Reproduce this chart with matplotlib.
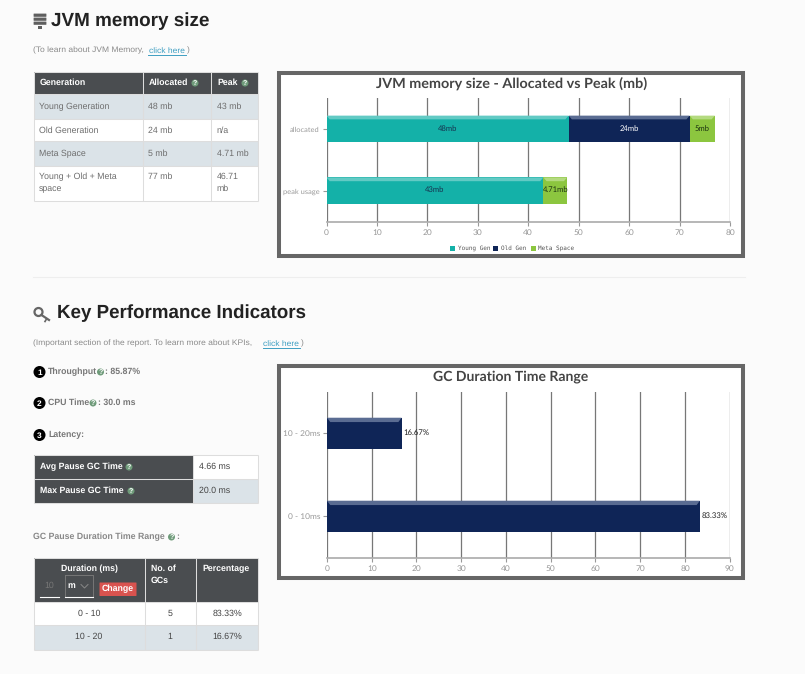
import matplotlib
matplotlib.use("Agg")
import matplotlib.pyplot as plt
from matplotlib.patches import Rectangle, Circle, FancyBboxPatch

plt.rcParams["text.hinting"] = "no_hinting"

W, H = 805, 674

# datos de los graficos
mem_categorias = ["allocated", "peak usage"]
mem_young = [48, 43]
mem_old = [24, 0]
mem_meta = [5, 4.71]
mem_labels_young = ["48mb", "43mb"]
mem_labels_old = ["24mb", ""]
mem_labels_meta = ["5mb", "4.71mb"]
mem_ticks = [0, 10, 20, 30, 40, 50, 60, 70, 80]

gc_categorias = ["10 - 20ms", "0 - 10ms"]
gc_valores = [16.67, 83.33]
gc_labels = ["16.67%", "83.33%"]
gc_ticks = [0, 10, 20, 30, 40, 50, 60, 70, 80, 90]

# datos de las tablas
gen_nombres = ["Young Generation", "Old Generation", "Meta Space"]
gen_allocated = ["48 mb", "24 mb", "5 mb"]
gen_peak = ["43 mb", "n/a", "4.71 mb"]
rango_duracion = ["0 - 10", "10 - 20"]
rango_gcs = ["5", "1"]
rango_pct = ["83.33%", "16.67%"]

TEAL = "#14b1a8"
TEAL_L = "#62cac4"
NAVY = "#0f2557"
NAVY_L = "#5a6c92"
GREEN = "#8cc63f"
GREEN_L = "#b4da80"
DARK = "#4a4d50"
ROW = "#dbe3e8"
BORDER = "#dddddd"
TXT = "#6e6e6e"
SANS = "Liberation Sans"

fig = plt.figure(figsize=(W / 100, H / 100), dpi=100, facecolor="#fbfbfb")
page = fig.add_axes([0, 0, 1, 1])
page.set_xlim(0, W)
page.set_ylim(H, 0)
page.axis("off")


def txt(x, y, s, size=None, color=TXT, bold=False, ha="left", family=SANS):
    if size is None:
        size = 6.3 if bold else 6.3
    page.text(x, y + 1, s, fontsize=size, color=color, ha=ha, va="center",
              family=family, fontweight="bold" if bold else "normal")


def caja(x0, y0, x1, y1, color, borde=None, lw=1):
    page.add_patch(Rectangle((x0, y0), x1 - x0, y1 - y0, facecolor=color,
                             edgecolor=borde if borde else "none", linewidth=lw))


def ayuda(x, y, r=3.5):
    # circulito verde con signo de pregunta
    page.add_patch(Circle((x, y), r, color="#6f9b7a", lw=0, zorder=5))
    page.text(x, y + 0.6, "?", fontsize=5, color="white", ha="center", va="center",
              family=SANS, fontweight="bold", zorder=6)


def numero(x, y, s):
    page.add_patch(Circle((x, y), 6, color="black", lw=0, zorder=5))
    page.text(x, y + 0.6, s, fontsize=6, color="white", ha="center", va="center",
              family=SANS, fontweight="bold", zorder=6)


def tabla_lineas(xs, ys, color="white"):
    for x in xs:
        page.plot([x, x], [ys[0], ys[-1]], color=color, lw=0.75, solid_capstyle="butt")
    for y in ys:
        page.plot([xs[0], xs[-1]], [y, y], color=color, lw=0.75, solid_capstyle="butt")


# encabezado 1
for y0 in [14, 18, 22]:
    page.add_patch(FancyBboxPatch((34, y0), 12, 2.4, boxstyle="round,pad=0.4", color="#5f5f5f", lw=0))
page.add_patch(Rectangle((38, 25.5), 4, 3.5, color="#5f5f5f", lw=0))
txt(51, 20, "JVM memory size", size=13.6, color="#222222", bold=True)
txt(33, 49.5, "(To learn about JVM Memory,", size=6.1, color="#8a8a8a")
txt(149, 49.5, "click here", size=6.1, color="#3f9fc2")
page.plot([148, 186], [54.5, 54.5], color="#3f9fc2", lw=0.7)
txt(186.5, 49.5, ")", size=6.1, color="#8a8a8a")

# tabla de generaciones
xs1 = [33.5, 142.5, 210.5, 257.5]
ys1 = [72, 94, 118.5, 141, 165.5, 201]
caja(33.5, 72, 257.5, 94, DARK)
caja(33.5, 94, 257.5, 118.5, ROW)
caja(33.5, 118.5, 257.5, 141, "white")
caja(33.5, 141, 257.5, 165.5, ROW)
caja(33.5, 165.5, 257.5, 201, "white")
tabla_lineas(xs1, ys1, color=BORDER)
txt(40, 82, "Generation", color="white", bold=True)
txt(149, 82, "Allocated", color="white", bold=True)
ayuda(195, 83)
txt(217.5, 82, "Peak", color="white", bold=True)
ayuda(245, 83)
for i, nombre in enumerate(gen_nombres):
    yc = (ys1[i + 1] + ys1[i + 2]) / 2 - 0.5
    txt(39, yc, nombre)
    txt(147.5, yc, gen_allocated[i])
    txt(216.5, yc, gen_peak[i])
txt(39, 176, "Young + Old + Meta")
txt(39, 188, "space")
txt(147.5, 176, "77 mb")
txt(216.5, 176, "46.71")
txt(216.5, 188, "mb")

page.plot([33, 745], [277, 277], color="#eeeeee", lw=0.75)

# encabezado 2
page.add_patch(Circle((38.5, 312), 4, facecolor="none", edgecolor="#666666", lw=1.6))
page.plot([41.5, 49], [315, 320], color="#666666", lw=1.6)
page.plot([46.5, 45], [319, 321.5], color="#666666", lw=1.2)
txt(57, 312.5, "Key Performance Indicators", size=13.5, color="#222222", bold=True)
txt(33, 342.5, "(Important section of the report. To learn more about KPIs,", size=6.1, color="#8a8a8a")
txt(263, 342.5, "click here", size=6.1, color="#3f9fc2")
page.plot([263, 300], [347.5, 347.5], color="#3f9fc2", lw=0.7)
txt(300.5, 342.5, ")", size=6.1, color="#8a8a8a")

numero(39.5, 372, "1")
txt(48, 371, "Throughput", bold=True, color="#777777")
ayuda(100.5, 372)
txt(105, 371, ": 85.87%", bold=True, color="#777777")
numero(39.5, 403, "2")
txt(48, 402, "CPU Time", bold=True, color="#777777")
ayuda(93, 403)
txt(98, 402, ": 30.0 ms", bold=True, color="#777777")
numero(39.5, 435, "3")
txt(48, 434, "Latency:", bold=True, color="#777777")

# tabla de latencia
caja(33.5, 455, 193, 503, DARK)
caja(193, 455, 258, 479, "white")
caja(193, 479, 258, 503, ROW)
tabla_lineas([33.5, 193, 258], [455, 479, 503], color=BORDER)
txt(40, 466, "Avg Pause GC Time", color="white", bold=True)
ayuda(129, 467)
txt(40, 490, "Max Pause GC Time", color="white", bold=True)
ayuda(131, 491)
txt(199, 466, "4.66 ms", color="#444444")
txt(199, 490, "20.0 ms", color="#444444")

txt(33, 536, "GC Pause Duration Time Range", bold=True, color="#888888")
ayuda(171.5, 537)
txt(176, 536, ":", bold=True, color="#888888")

# tabla de rangos
caja(33.5, 557.5, 258, 602, DARK)
caja(33.5, 602, 258, 625, "white")
caja(33.5, 625, 258, 649.5, ROW)
tabla_lineas([33.5, 144.5, 195.5, 258], [557.5, 602, 625, 649.5], color=BORDER)
txt(89, 568, "Duration (ms)", color="white", bold=True, ha="center")
txt(49.5, 585, "10", color="#777777", ha="center")
page.plot([40, 59], [596.5, 596.5], color="white", lw=0.8)
page.plot([65, 93, 93, 65, 65], [575, 575, 596.5, 596.5, 575], color="#777777", lw=0.7)
page.plot([65, 93], [596.5, 596.5], color="white", lw=0.8)
txt(67, 585, "m", color="white", bold=True)
page.plot([81, 84.5, 88], [584.5, 588, 584.5], color="#888888", lw=0.7)
page.add_patch(FancyBboxPatch((100, 583), 36, 12.5, boxstyle="round,pad=0.5", color="#d9534f", lw=0))
txt(118, 588, "Change", color="white", bold=True, ha="center")
txt(151, 568, "No. of", color="white", bold=True)
txt(151, 580, "GCs", color="white", bold=True)
txt(226.5, 568, "Percentage", color="white", bold=True, ha="center")
for i, d in enumerate(rango_duracion):
    yc = 612.5 + i * 23.5
    txt(89, yc, d, color="#444444", ha="center")
    txt(170, yc, rango_gcs[i], color="#444444", ha="center")
    txt(227, yc, rango_pct[i], color="#444444", ha="center")

# marcos de los graficos
caja(279, 73, 743, 256, "white", borde="#666666", lw=2.9)
caja(279, 366, 743, 578, "white", borde="#666666", lw=2.9)


def ejes_px(x0, y0, x1, y1):
    return fig.add_axes([x0 / W, 1 - y1 / H, (x1 - x0) / W, (y1 - y0) / H], facecolor="none")


def barra(ax, y, valor, inicio, alto, color, claro, xmax):
    # barra con el bisel claro de arriba
    ax.barh(y, valor, left=inicio, height=alto, color=color, zorder=3)
    franja = alto * 0.14
    d = xmax * 0.008
    top = y + alto / 2
    ax.fill([inicio, inicio + valor, inicio + valor - d, inicio + d],
            [top, top, top - franja, top - franja], color=claro, lw=0, zorder=4)


def estilo(ax, ticks, xmax, categorias, ysize=6):
    ax.set_xlim(0, xmax)
    ax.set_ylim(-0.5, len(categorias) - 0.5)
    ax.set_xticks(ticks)
    ax.set_yticks(range(len(categorias)))
    ax.set_yticklabels(categorias)
    ax.xaxis.grid(True, color="#777777", lw=0.9, zorder=1)
    ax.set_axisbelow(True)
    ax.tick_params(axis="both", labelsize=6, labelcolor="#999999", color="#999999",
                   length=3, width=0.8, pad=2)
    ax.tick_params(axis="y", labelsize=ysize)
    for lab in ax.get_xticklabels() + ax.get_yticklabels():
        lab.set_family("Lato")
    for lado in ["top", "left", "right"]:
        ax.spines[lado].set_visible(False)
    ax.spines["bottom"].set_color("#aaaaaa")
    ax.spines["bottom"].set_linewidth(1.2)


# grafico de memoria
ax1 = ejes_px(326.5, 98, 730, 221.7)
alto1 = 0.43
ys = [1, 0]
for y, yo, ol, me, l1, l2, l3 in zip(ys, mem_young, mem_old, mem_meta,
                                     mem_labels_young, mem_labels_old, mem_labels_meta):
    barra(ax1, y, yo, 0, alto1, TEAL, TEAL_L, 80)
    if ol > 0:
        barra(ax1, y, ol, yo, alto1, NAVY, NAVY_L, 80)
    barra(ax1, y, me, yo + ol, alto1, GREEN, GREEN_L, 80)
    ax1.text(yo / 2, y + 0.01, l1, fontsize=5.5, color="#16324f", ha="center", va="center", family="Lato", zorder=6)
    if l2:
        ax1.text(yo + ol / 2, y + 0.01, l2, fontsize=5.5, color="white", ha="center", va="center", family="Lato", zorder=6)
    ax1.text(yo + ol + me / 2, y + 0.01, l3, fontsize=5.5, color="#1c3311", ha="center", va="center", family="Lato", zorder=6)
estilo(ax1, mem_ticks, 80, mem_categorias[::-1], ysize=5.4)
txt(511.5, 83, "JVM memory size - Allocated vs Peak (mb)", size=10.35, color="#444444", bold=True, ha="center", family="Lato")

# leyenda
for x, color, nombre in [(450, TEAL, "Young Gen"), (493, NAVY, "Old Gen"), (530.5, GREEN, "Meta Space")]:
    page.add_patch(Rectangle((x, 246), 5, 5, color=color, lw=0, zorder=8))
    page.text(x + 7.5, 248.3, nombre, fontsize=4.3, color="#555555", family="DejaVu Sans Mono",
              va="center", zorder=8)

# grafico de duracion
ax2 = ejes_px(327, 391.7, 729.7, 557.7)
alto2 = 0.373
estilo(ax2, gc_ticks, 90, gc_categorias[::-1])
for y, val, lab in zip([1, 0], gc_valores, gc_labels):
    barra(ax2, y, val, 0, alto2, NAVY, NAVY_L, 90)
    ax2.text(val + 0.4, y + 0.01, lab, fontsize=5.6, color="#222222", ha="left", va="center", family="Lato", zorder=6)
txt(511, 376, "GC Duration Time Range", size=10.1, color="#444444", bold=True, ha="center", family="Lato")

fig.savefig("out.png", dpi=100, facecolor=fig.get_facecolor())
